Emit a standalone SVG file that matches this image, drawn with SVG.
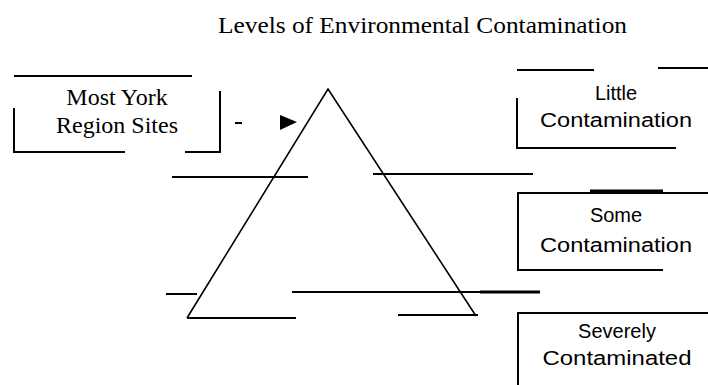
<svg xmlns="http://www.w3.org/2000/svg" width="708" height="385" viewBox="0 0 708 385">
<style>
.ln{stroke:#000;stroke-width:2;fill:none}
.tri{stroke:#000;stroke-width:1.6;fill:none}
.serif{font-family:"Liberation Serif","Times New Roman",serif;fill:#000}
.sans{font-family:"Liberation Sans",Arial,sans-serif;fill:#000;text-anchor:middle}
</style>
<rect width="708" height="385" fill="#fff"/>
<text class="serif" x="218" y="33" font-size="24" textLength="409" lengthAdjust="spacingAndGlyphs">Levels of Environmental Contamination</text>

<g id="most-york">
<path class="ln" d="M14 76H192M14 108V152H125M185 152H220V91"/>
<text class="serif" x="117" y="105" font-size="24" text-anchor="middle">Most York</text>
<text class="serif" x="117" y="133" font-size="24" text-anchor="middle">Region Sites</text>
</g>

<g id="pyramid">
<path class="tri" d="M187 318L328 89L476 316"/>
<path class="ln" d="M172 177H308M373 174H533M166 294H197M292 292H540M187 318H296M398 315H478"/>
<path d="M480 292H540" stroke="#000" stroke-width="3"/>
</g>

<g id="little">
<path class="ln" d="M517 70H594M658 68H708M517 98V148H676"/>
<text class="sans" x="616" y="100" font-size="20">Little</text>
<text class="sans" x="616" y="127" font-size="20" textLength="152" lengthAdjust="spacingAndGlyphs">Contamination</text>
</g>

<g id="some">
<path class="ln" d="M708 193H518V270H663"/>
<path d="M590 191H663" stroke="#000" stroke-width="3"/>
<text class="sans" x="616" y="222" font-size="20">Some</text>
<text class="sans" x="616" y="252" font-size="20" textLength="152" lengthAdjust="spacingAndGlyphs">Contamination</text>
</g>

<g id="severe">
<path class="ln" d="M708 313H518V385"/>
<text class="sans" x="617" y="338" font-size="20">Severely</text>
<text class="sans" x="617" y="365" font-size="20" textLength="149" lengthAdjust="spacingAndGlyphs">Contaminated</text>
</g>

<g id="connectors">
<path class="ln" d="M235 123H242"/>
<path d="M280 115L297 122L280 130Z" fill="#000"/>
</g>
</svg>
